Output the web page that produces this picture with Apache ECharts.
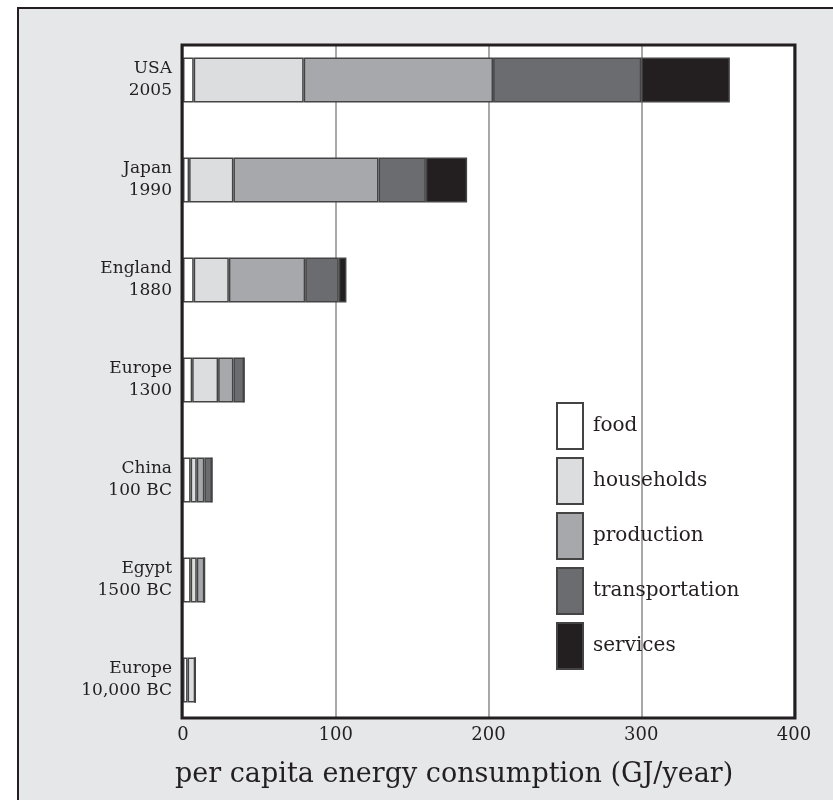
<!DOCTYPE html>
<html>
<head>
<meta charset="utf-8">
<script src="https://cdn.jsdelivr.net/npm/echarts@6/dist/echarts.min.js"></script>
<style>html,body{margin:0;padding:0;background:#fff}#c{width:833px;height:800px}</style>
</head>
<body>
<div id="c"></div>
<script>
const categories = ["USA\n2005", "Japan\n1990", "England\n1880", "Europe\n1300", "China\n100 BC", "Egypt\n1500 BC", "Europe\n10,000 BC"];
const seriesNames = ["food", "households", "production", "transportation", "services"];
const food           = [7, 4, 7, 6, 5, 5, 3];
const households     = [72, 29, 23, 17, 4, 4, 5];
const production     = [124, 95, 50, 10, 5, 5, 0];
const transportation = [97, 31, 22, 7, 5, 0, 0];
const services       = [58, 27, 5, 0, 0, 0, 0];
const xTicks = [0, 100, 200, 300, 400];
const colors = ["#ffffff", "#dcdddf", "#a7a8ab", "#6b6c70", "#231f20"];
const values = [food, households, production, transportation, services];

const FONT = "DejaVu Serif";
const chart = echarts.init(document.getElementById('c'), null, {renderer: 'canvas'});

const series = seriesNames.map((n, i) => ({
  name: n,
  type: 'bar',
  stack: 'total',
  xAxisIndex: 0,
  yAxisIndex: 0,
  barWidth: 45,
  data: values[i],
  itemStyle: {color: colors[i], borderColor: '#444444', borderWidth: 1.5},
  emphasis: {disabled: true}
}));
series.push({type: 'line', xAxisIndex: 1, yAxisIndex: 1, data: [], silent: true});

chart.setOption({
  backgroundColor: '#ffffff',
  animation: false,
  textStyle: {fontFamily: FONT},
  graphic: [
    {type: 'rect', z: -100, shape: {x: 18, y: 8, width: 830, height: 820},
     style: {fill: '#e6e7e8', stroke: '#231f20', lineWidth: 2}},
    {type: 'rect', z: 100, shape: {x: 182, y: 45, width: 613, height: 673},
     style: {fill: 'none', stroke: '#231f20', lineWidth: 3}}
  ],
  title: {
    text: 'per capita energy consumption (GJ/year)',
    left: 170, top: 756,
    textStyle: {fontFamily: FONT, fontSize: 27, fontWeight: 'normal', color: '#231f20'}
  },
  legend: {
    data: seriesNames,
    orient: 'vertical',
    left: 551, top: 397,
    itemWidth: 26, itemHeight: 46, itemGap: 7,
    icon: 'rect',
    textStyle: {fontFamily: FONT, fontSize: 20, color: '#231f20', padding: [8, 0, 0, 5]},
    selectedMode: false
  },
  grid: [
    {left: 183, right: 39, top: 30, bottom: 70, containLabel: false},
    {left: 183, right: 39, top: 45, bottom: 82, containLabel: false, show: true, backgroundColor: '#ffffff', borderWidth: 0}
  ],
  xAxis: [
    {type: 'value', gridIndex: 0, min: 0, max: 400, show: false},
    {type: 'value', gridIndex: 1, min: xTicks[0], max: xTicks[xTicks.length - 1], interval: 100,
     axisLine: {show: false}, axisTick: {show: false},
     axisLabel: {fontFamily: FONT, fontSize: 18, color: '#231f20', margin: 8},
     splitLine: {show: true, lineStyle: {color: '#a8a8a8', width: 2}}}
  ],
  yAxis: [
    {type: 'category', gridIndex: 0, inverse: true, data: categories,
     axisLine: {show: false}, axisTick: {show: false}, splitLine: {show: false},
     axisLabel: {fontFamily: FONT, fontSize: 17, lineHeight: 22, color: '#231f20', margin: 11, align: 'right'}},
    {type: 'value', gridIndex: 1, show: false, min: 0, max: 1}
  ],
  series: series
});
</script>
</body>
</html>
